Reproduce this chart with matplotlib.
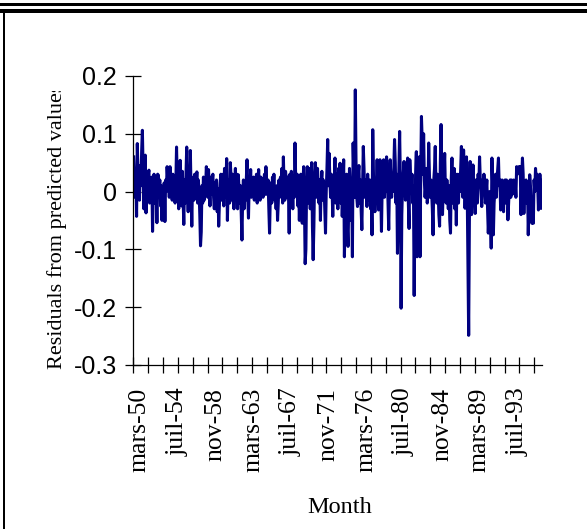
import numpy as np
import matplotlib
matplotlib.use("Agg")
import matplotlib.pyplot as plt
from matplotlib.patches import Rectangle
from matplotlib.transforms import Bbox, TransformedBbox, ScaledTranslation

# monthly residuals, starting mars-50
residuals = [
    0.060, 0.020, -0.010, 0.035, -0.043, 0.083, 0.030, 0.005, -0.015, 0.045, 0.010, 0.070,
    0.106, 0.040, -0.030, 0.010, 0.063, -0.037, 0.020, -0.005, 0.030, 0.037, -0.020, 0.015,
    -0.010, 0.025, -0.069, 0.000, 0.030, -0.020, 0.025, 0.010, -0.054, 0.030, 0.028,
    0.005, 0.020, -0.025, 0.010, -0.050, 0.005, -0.045, 0.015, -0.052, 0.020, 0.000, 0.043,
    0.020, 0.035, -0.010, 0.043, 0.005, 0.025, -0.015, 0.030, -0.005, 0.015, -0.020, 0.010,
    0.077, 0.020, 0.005, -0.030, 0.015, 0.054, 0.010, -0.025, 0.035, -0.010, -0.057, 0.020,
    -0.020, 0.030, 0.077, 0.010, -0.035, 0.030, -0.010, 0.071, 0.000, -0.060, 0.015, 0.025,
    -0.015, 0.030, -0.005, 0.010, 0.034, -0.020, 0.020, 0.000, -0.040, -0.094, -0.070, 0.010,
    -0.020, 0.025, -0.015, 0.020, 0.005, 0.043, 0.030, -0.010, 0.038, 0.010, -0.025,
    0.025, -0.005, 0.020, 0.030, -0.010, -0.030, 0.015, -0.020, 0.020, -0.035, 0.005, -0.060,
    -0.020, 0.015, 0.030, -0.015, 0.010, 0.030, -0.025, 0.040, -0.010, 0.020, 0.057, -0.050,
    0.010, 0.020, -0.020, 0.050, 0.025, -0.015, 0.030, 0.005, -0.030, 0.015, 0.040, -0.010,
    0.030, -0.030, 0.029, 0.005, -0.020, 0.010, -0.040, -0.084, -0.010, 0.020, -0.030, 0.010,
    -0.015, 0.020, 0.055, -0.010, -0.046, 0.015, 0.010, 0.038, -0.010, 0.020, -0.005, 0.025,
    -0.015, 0.020, 0.005, 0.030, -0.020, 0.010, 0.038, 0.000, -0.015, 0.025, 0.010,
    0.020, -0.010, 0.015, 0.030, -0.005, 0.043, 0.010, -0.005, 0.020, -0.030, -0.072, -0.010,
    0.015, -0.020, 0.025, 0.000, 0.030, -0.015, 0.005, -0.030, 0.010, -0.050, -0.020, 0.020,
    -0.010, 0.025, 0.000, 0.040, -0.020, 0.060, 0.010, -0.015, 0.035, 0.020, -0.010, 0.025,
    0.000, -0.072, 0.030, -0.020, 0.035, 0.010, -0.030, 0.020, -0.010, 0.084, 0.020, 0.000,
    0.030, -0.025, 0.015, -0.050, 0.005, 0.030, -0.020, -0.055, 0.020, 0.043, -0.020, -0.125,
    -0.100, 0.010, 0.043, -0.020, 0.030, 0.040, -0.030, 0.020, 0.050, -0.060, -0.118,
    -0.060, 0.025, 0.050, 0.030, -0.010, 0.040, 0.010, -0.020, 0.020, -0.050, 0.015, 0.035,
    -0.015, 0.020, 0.010, -0.030, -0.072, 0.000, 0.040, 0.090, 0.010, 0.066, 0.020, -0.010,
    0.030, 0.005, -0.043, 0.020, 0.000, 0.058, -0.020, 0.030, 0.010, -0.030, 0.040, 0.020,
    0.049, -0.020, 0.030, -0.043, 0.000, 0.055, -0.113, -0.040, 0.020, 0.030, -0.060, -0.095,
    -0.020, 0.040, 0.010, -0.050, 0.020, -0.113, 0.084, 0.030, -0.010, 0.176, 0.050, -0.010,
    -0.026, 0.030, 0.045, -0.020, 0.020, -0.030, -0.066, 0.010, 0.078, 0.040, -0.010,
    0.020, 0.000, -0.026, 0.030, -0.015, 0.010, 0.020, -0.030, 0.000, -0.075, 0.107, 0.030,
    -0.010, -0.035, 0.020, 0.000, 0.055, -0.010, -0.032, 0.020, 0.055, 0.000, -0.069, 0.010,
    0.030, 0.055, -0.010, 0.020, 0.000, 0.060, 0.030, -0.020, -0.066, 0.010, 0.055, 0.020,
    -0.010, 0.030, 0.000, 0.040, 0.090, 0.050, -0.020, 0.030, -0.107, -0.030, 0.040, 0.104,
    0.020, -0.202, -0.040, 0.010, 0.030, 0.052, 0.020, -0.015, 0.010, 0.040, 0.058, -0.020,
    -0.064, 0.055, 0.020, 0.000, 0.030, -0.020, 0.010, -0.180, -0.040, 0.030, 0.069,
    -0.113, -0.050, 0.020, 0.060, -0.113, 0.020, 0.130, 0.090, 0.030, 0.100, 0.020, -0.010,
    0.010, 0.040, -0.020, 0.000, 0.084, 0.030, -0.010, 0.020, 0.000, -0.030, -0.075, 0.020,
    0.040, 0.078, 0.010, -0.020, 0.030, 0.000, -0.040, -0.060, 0.050, 0.116, 0.020, -0.040,
    0.010, 0.030, 0.066, 0.000, -0.020, 0.020, 0.000, -0.030, 0.010, -0.050, -0.072, 0.020,
    0.058, -0.020, 0.010, 0.040, -0.030, 0.020, -0.058, 0.030, 0.010, -0.020, 0.030,
    0.000, 0.040, 0.078, 0.010, -0.010, 0.072, 0.020, -0.029, 0.010, 0.060, 0.000, -0.120,
    -0.249, -0.050, 0.052, 0.000, -0.040, 0.020, 0.046, 0.010, 0.000, -0.038, 0.020, 0.000,
    -0.020, 0.030, 0.010, 0.060, 0.020, 0.000, -0.026, 0.020, 0.000, 0.030, 0.010, -0.020,
    0.000, 0.020, -0.030, -0.072, -0.040, 0.000, -0.030, -0.098, 0.058, 0.010, -0.075, -0.020,
    0.000, 0.030, -0.010, 0.020, 0.040, 0.058, 0.010, 0.020, -0.032, 0.000, 0.020, -0.010,
    -0.035, 0.010, 0.020, -0.020, 0.020, 0.010, -0.049, -0.020, 0.010, 0.020, -0.010,
    0.020, -0.005, 0.010, 0.020, 0.000, 0.015, -0.010, 0.043, 0.030, 0.040, 0.043, 0.035,
    0.043, -0.040, 0.020, 0.058, 0.030, -0.038, 0.010, 0.000, 0.020, -0.020, 0.010, -0.075,
    -0.020, 0.029, 0.010, -0.030, -0.055, -0.040, -0.055, 0.020, 0.000, 0.040, 0.020, 0.030,
    0.010, -0.032, 0.020, 0.030, 0.020, -0.029,
]

mois = ["janv", "févr", "mars", "avr", "mai", "juin",
        "juil", "août", "sept", "oct", "nov", "déc"]
start_year = 1950
start_month = 2          # mars
label_every = 52         # months between category labels

y_ticks = [-0.3, -0.2, -0.1, 0, 0.1, 0.2]
y_labels = ["-0.3", "-0.2", "-0.1", "0", "0.1", "0.2"]

n = len(residuals)
months = np.arange(n)


def month_label(i):
    k = start_month + i
    return f"{mois[k % 12]}-{(start_year + k // 12) % 100:02d}"


W, H = 587, 529
fig = plt.figure(figsize=(W / 100, H / 100), dpi=100)
fig.patch.set_facecolor("white")

# frame: double rule on top, single rule on the left
def px_rect(x0, y0, x1, y1):
    fig.add_artist(Rectangle((x0 / W, 1 - y1 / H), (x1 - x0) / W, (y1 - y0) / H,
                             transform=fig.transFigure, color="black", lw=0))

px_rect(0, 2.5, W, 6)
px_rect(0, 9, W, 12.7)
px_rect(2.7, 12.7, 5.2, H)

ax = fig.add_axes([133.3 / W, 1 - 364.8 / H, (541.7 - 133.3) / W, (364.8 - 76) / H])
ax.plot(months, residuals, color="#000080", lw=2.2, solid_joinstyle="round")

ax.set_xlim(-0.5, n - 0.5)
ax.set_ylim(-0.3, 0.2)
for s in ["top", "right"]:
    ax.spines[s].set_visible(False)
for s in ["left", "bottom"]:
    ax.spines[s].set_linewidth(0.9)

ax.set_yticks(y_ticks)
ax.set_yticklabels(y_labels, fontfamily="Liberation Sans", fontsize=18)
ax.tick_params(axis="y", direction="inout", length=11, width=0.9, pad=6.5)

lab_pos = list(range(0, n, label_every))
ax.set_xticks(lab_pos)
ax.set_xticklabels([month_label(i) for i in lab_pos], rotation=90,
                   fontfamily="Liberation Serif", fontsize=18.5, ha="center", va="top")
ax.tick_params(axis="x", which="major", length=0, pad=16.5)
shift = ScaledTranslation(6 / 100, 0, fig.dpi_scale_trans)
for lab in ax.get_xticklabels():
    lab.set_transform(lab.get_transform() + shift)
ax.set_xticks(np.arange(-0.5, n, n / 27.5), minor=True)
ax.tick_params(axis="x", which="minor", direction="inout", length=11.5, width=0.9)

ylab = fig.text(61.7 / W, 1 - 369 / H, "Residuals from predicted values",
                rotation=90, rotation_mode="anchor", ha="left", va="baseline",
                fontfamily="Liberation Serif", fontsize=16)
ylab.set_clip_box(TransformedBbox(Bbox([[0, 0], [1, 1 - 91 / H]]), fig.transFigure))
ylab.set_clip_on(True)

fig.text(339.5 / W, 1 - 507.5 / H, "Month", ha="center", va="center",
         fontfamily="Liberation Serif", fontsize=17.5)

fig.savefig("out.png", dpi=100)
